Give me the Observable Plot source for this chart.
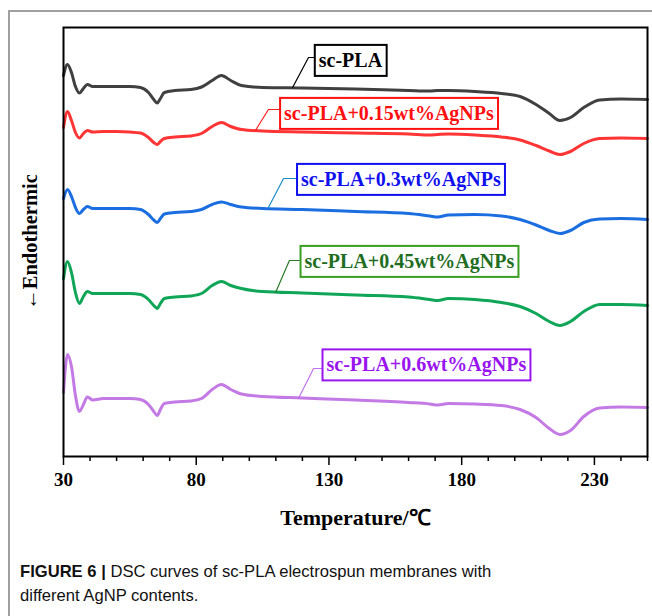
<!DOCTYPE html>
<html><head><meta charset="utf-8">
<script src="https://cdn.jsdelivr.net/npm/d3@7"></script>
<script src="https://cdn.jsdelivr.net/npm/@observablehq/plot@0.6"></script>
<style>
html,body{margin:0;padding:0;background:#fff;}
#wrap{position:relative;width:652px;height:616px;overflow:hidden;background:#fff;}
#border{position:absolute;left:8px;top:10px;right:-5px;bottom:-5px;border-top:2px solid #a0a0a0;border-left:2px solid #a0a0a0;}
#chart{position:absolute;left:0;top:0;}
#caption{position:absolute;left:20px;top:560px;font-family:"Liberation Sans",Arial,sans-serif;font-size:16.6px;line-height:24px;color:#111;}
</style></head><body>
<div id="wrap"><div id="border"></div><div id="chart"></div>
<div id="caption"><b>FIGURE 6 |</b> DSC curves of sc-PLA electrospun membranes with<br>different AgNP contents.</div></div>
<script>
// Temperature (°C)
const T = [30,31.5,33,34.5,36,37.5,39,41,45,50,55,59,62,64,65.3,66.5,68,72,78,82,86,89.5,93,97,105,120,140,160,168,171,175,185,195,202,208,213,217,221,226,232,240,250];
// Heat flow (a.u., curves offset)
const scPLA  = [381,392,384,370,363.5,368,372,370,370,370,370,369,364,357,353.5,358,364,366,367,369.5,376,381,376,371,369,368.5,367.5,366,365.5,366,366,365,363,360,352,343,336,339,349,356.5,357.5,357];
const ag015  = [329,345,336,324,318.5,323,326,324.5,325,325,324.5,323.5,319,314,312,315,318,319.5,320.5,323,330,334,330,327,325.5,324.5,323.5,322.5,321.5,322,322.5,321.5,319.5,316.5,311,305.5,302,305,313,318,318.5,318];
const ag03   = [258,267,260,249,243,247,250,248,248,248,248,247,242,236.5,234,238,242.5,244,245,247,252,254.5,252,249.5,248,247,245,243,240.5,239.5,241.5,242,240.5,237,231.5,226,223,226,234,237.5,238,237];
const ag045  = [178,195,184,164,153,160,165,163,163,163,163,162,157,151,148,153,158,159.5,160.5,163,171,175,171,168,165,163.5,161.5,159.5,157,156,158,157,154,150,143,135,131,135,145,152,152,151];
const ag06   = [64,102,90,61,45,52,59.5,56.5,58,58,58,57,52,45,41,47,53,54.5,55.5,58,67,72,67,62.5,60,58.5,56.5,54,52.5,51.5,53,52.5,51,47,39,28,22,26,40,48.5,49.5,49];

const seriesNames = ["sc-PLA","sc-PLA+0.15wt%AgNPs","sc-PLA+0.3wt%AgNPs","sc-PLA+0.45wt%AgNPs","sc-PLA+0.6wt%AgNPs"];
const seriesValues = [scPLA, ag015, ag03, ag045, ag06];
const lineColors = ["#404040","#ff3535","#1a6ee0","#10a658","#c47ae4"];
const labelTextColors = ["#000000","#ff1010","#1010ee","#1f6e1f","#9a14f0"];
const labelBoxColors = ["#000000","#ff1010","#1010ee","#3a9e22","#9a14f0"];
const leaderColors = ["#000000","#ff2020","#1a8cc8","#2a7a2a","#c070f0"];

// label anchor positions (data units)
const labelT = [138.1,152.6,157.1,160.3,166.7];
const labelV = [395.5,343,277,195,91.5];
// leader lines: curve point -> elbow -> box edge
const leadCurveT = [116.3,102.3,107.2,109.9,118.5];
const leadCurveV = [369,326,249,164,58];
const leadElbowT = [122.3,107.2,112.9,115.1,124.2];
const leadBoxT   = [124.6,111.4,117.8,119.3,127.6];
const leadBoxV   = [399,347,278,196,88];

const majorTicks = [30,80,130,180,230];
const minorTicks = [40,50,60,70,90,100,110,120,140,150,160,170,190,200,210,220,240,250];
const xLabel = "Temperature/℃";
const yLabel = "←Endothermic";

const rows = [];
seriesValues.forEach((vals,k)=> T.forEach((t,j)=> rows.push({T:t, v:vals[j], k})));
const leaderRows = [];
seriesNames.forEach((n,k)=>{
  leaderRows.push({T:leadCurveT[k], v:leadCurveV[k], k});
  leaderRows.push({T:leadElbowT[k], v:leadBoxV[k], k});
  leaderRows.push({T:leadBoxT[k], v:leadBoxV[k], k});
});
const labelRows = seriesNames.map((name,k)=>({name, T:labelT[k], v:labelV[k], k}));

const plot = Plot.plot({
  width:652, height:540,
  marginLeft:63, marginRight:5, marginTop:27, marginBottom:84,
  style:{background:"transparent", fontFamily:"'Liberation Serif','Times New Roman',serif", color:"#000", overflow:"visible"},
  x:{domain:[30,250]},
  y:{domain:[0,429], axis:null},
  marks:[
    Plot.axisX({ticks:minorTicks, tickSize:5, tickFormat:()=>"", label:null, strokeWidth:1.5}),
    Plot.axisX({ticks:majorTicks, tickSize:9, tickPadding:7, fontSize:19, fontWeight:"bold", label:null, strokeWidth:1.5, tickFormat:d=>String(d)}),
    Plot.line(rows, {x:"T", y:"v", z:"k", stroke:d=>lineColors[d.k], strokeWidth:3, curve:"monotone-x"}),
    Plot.line(leaderRows, {x:"T", y:"v", z:"k", stroke:d=>leaderColors[d.k], strokeWidth:1.2}),
    Plot.text(labelRows, {x:"T", y:"v", text:"name", fill:d=>labelTextColors[d.k], fontSize:20, fontWeight:"bold", ariaLabel:"series label"}),
    Plot.text([yLabel], {frameAnchor:"left", textAnchor:"middle", lineAnchor:"middle", rotate:-90, dx:-33, fontSize:20.5, fontWeight:"bold"}),
    Plot.text([xLabel], {frameAnchor:"bottom", textAnchor:"middle", lineAnchor:"middle", dy:61, fontSize:22, fontWeight:"bold"}),
    Plot.frame({stroke:"#000", strokeWidth:2})
  ]
});
document.getElementById("chart").append(plot);

// draw boxes around the series labels
const texts = Array.from(plot.querySelectorAll("text")).filter(t => seriesNames.includes(t.textContent));
texts.forEach(t=>{
  const k = seriesNames.indexOf(t.textContent);
  const bb = t.getBBox();
  const r = document.createElementNS("http://www.w3.org/2000/svg","rect");
  r.setAttribute("x", bb.x - 4);
  r.setAttribute("y", bb.y + bb.height/2 - 15.5);
  r.setAttribute("width", bb.width + 8);
  r.setAttribute("height", 31);
  r.setAttribute("fill", "#fff");
  r.setAttribute("stroke", labelBoxColors[k]);
  r.setAttribute("stroke-width", 2);
  if (t.getAttribute("transform")) r.setAttribute("transform", t.getAttribute("transform"));
  t.parentNode.insertBefore(r, t);
});
</script>
</body></html>
